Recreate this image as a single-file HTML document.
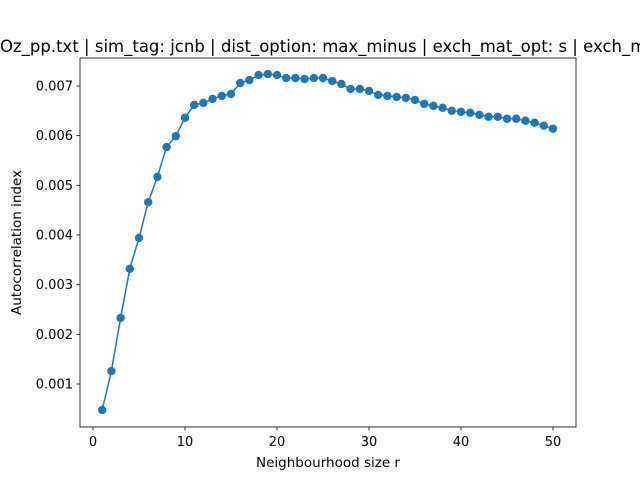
<!DOCTYPE html>
<html><head><meta charset="utf-8"><style>
body{margin:0;background:#fff;overflow:hidden;}
svg{display:block;font-family:"DejaVu Sans","Liberation Sans",sans-serif;}
</style></head><body>
<svg id="chart" width="640" height="480">
<rect x="0" y="0" width="640" height="480" fill="#fff"/>
<text x="0" y="52" font-size="16.5">Oz_pp.txt | sim_tag: jcnb | dist_option: max_minus | exch_mat_opt: s | exch_mat_opt: s</text>
<g id="plot"></g>
<rect x="80" y="58" width="496" height="369" fill="none" stroke="#000" stroke-width="0.8"/>
<text x="328" y="467" font-size="13.5" text-anchor="middle">Neighbourhood size r</text>
<text transform="translate(21,242.5) rotate(-90)" font-size="13.5" text-anchor="middle">Autocorrelation index</text>
</svg>
<script>
const rVals=[];for(let i=1;i<=50;i++)rVals.push(i);
const acValues=[0.000477,0.00126,0.00233,0.00332,0.00394,0.00466,0.00517,0.00577,0.00599,0.00636,0.00662,0.00666,0.00674,0.0068,0.00684,0.00706,0.00712,0.00722,0.00724,0.00722,0.00716,0.00716,0.00714,0.00716,0.00716,0.0071,0.00704,0.00694,0.00694,0.0069,0.00682,0.0068,0.00678,0.00676,0.00672,0.00664,0.0066,0.00656,0.0065,0.00648,0.00646,0.00642,0.00638,0.00638,0.00634,0.00634,0.0063,0.00626,0.0062,0.00614];
const xTicks=[0,10,20,30,40,50];
const yTicks=[0.001,0.002,0.003,0.004,0.005,0.006,0.007];
const yTickLabels=["0.001","0.002","0.003","0.004","0.005","0.006","0.007"];
const NS="http://www.w3.org/2000/svg";
const xs=v=>93+(v)*9.2;
const ys=v=>384-(v-0.001)*49670;
const g=document.getElementById('plot');
function mk(t,a){const e=document.createElementNS(NS,t);for(const k in a)e.setAttribute(k,a[k]);g.appendChild(e);return e;}
xTicks.forEach(t=>{
 const l=mk('line',{x1:xs(t),x2:xs(t),y1:427,y2:430.5,stroke:'#000','stroke-width':0.8});
 
 
 const tx=mk('text',{x:xs(t),y:446,'font-size':13,'text-anchor':'middle'});tx.textContent=t;
 
 
});
yTicks.forEach((t,i)=>{
 const l=mk('line',{x1:76.5,x2:80,y1:ys(t),y2:ys(t),stroke:'#000','stroke-width':0.8});
 
 
 const tx=mk('text',{x:73,y:ys(t)+4.5,'font-size':13,'text-anchor':'end'});tx.textContent=yTickLabels[i];
 
 
});
const pl=mk('polyline',{points:rVals.map((r,i)=>xs(r)+','+ys(acValues[i])).join(' '),fill:'none',stroke:'#1f77b4','stroke-width':1.5});


rVals.forEach((r,i)=>{
 const c=mk('circle',{cx:xs(r),cy:ys(acValues[i]),r:4.2,fill:'#1f77b4'});
 
 
});
</script>
</body></html>
